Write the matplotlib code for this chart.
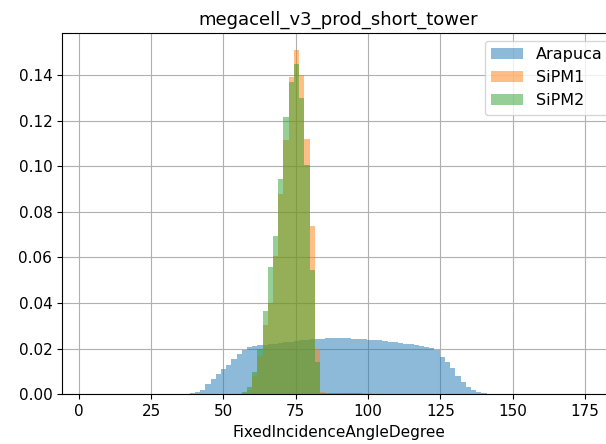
import numpy as np
import matplotlib
matplotlib.use("Agg")
import matplotlib.pyplot as plt

# common binning: 1.8 degree wide bins
bin_width = 1.8

# Arapuca: bins starting at 38.4 deg (fraction of entries per bin)
arapuca_start = 38.4
arapuca = [0.0004, 0.001, 0.002, 0.0044, 0.0066, 0.0087, 0.011, 0.013, 0.0153,
           0.0175, 0.0194, 0.0206, 0.0211, 0.0214, 0.0217, 0.0219, 0.0222, 0.0225,
           0.0228, 0.0231, 0.0234, 0.0237, 0.0239, 0.0241, 0.0243, 0.0244, 0.0245,
           0.0245, 0.0245, 0.0245, 0.0245, 0.0244, 0.0243, 0.0242, 0.0240, 0.0238,
           0.0236, 0.0234, 0.0231, 0.0228, 0.0225, 0.0222, 0.0219, 0.0215, 0.0211,
           0.0207, 0.0203, 0.0196, 0.0165, 0.0140, 0.0114, 0.0082, 0.0053, 0.0031,
           0.0017, 0.0009, 0.0004]

# SiPMs: bins starting at 56.4 deg
sipm_start = 56.4
sipm1 = [0.0005, 0.002, 0.008, 0.017, 0.0306, 0.040, 0.0605, 0.088, 0.1115, 0.139,
         0.151, 0.140, 0.112, 0.074, 0.020, 0.0008, 0.0007, 0.0006, 0.0006, 0.0005,
         0.0005, 0.0005, 0.0004, 0.0004, 0.0004, 0.0003, 0.0003, 0.0003, 0.0002,
         0.0002, 0.0002, 0.0001, 0.0001, 0.0001, 0.0001, 0.0001, 0.0001, 0.0001,
         0.0001, 0.0001, 0.0001]
sipm2 = [0.001, 0.003, 0.0096, 0.0197, 0.0364, 0.056, 0.0696, 0.0943, 0.1215, 0.137,
         0.1448, 0.130, 0.1006, 0.0547, 0.014, 0.0006, 0.0006, 0.0005, 0.0005, 0.0005,
         0.0004, 0.0004, 0.0004, 0.0003, 0.0003, 0.0003, 0.0002, 0.0002, 0.0002,
         0.0002, 0.0001, 0.0001, 0.0001, 0.0001, 0.0001, 0.0001, 0.0001, 0.0001,
         0.0001, 0.0001, 0.0001]

labels = ["Arapuca", "SiPM1", "SiPM2"]


def edges_for(start, values):
    return start + bin_width * np.arange(len(values) + 1)


fig = plt.figure(figsize=(6.06, 4.44), dpi=100)
# axes runs a little past the right edge of the picture, like the cropped original
ax = fig.add_axes([62 / 606, 1 - 394.3 / 444, (615 - 62) / 606, (394.3 - 32.7) / 444])

for start, vals, lab in [(arapuca_start, arapuca, labels[0]),
                         (sipm_start, sipm1, labels[1]),
                         (sipm_start, sipm2, labels[2])]:
    e = edges_for(start, vals)
    centers = 0.5 * (e[:-1] + e[1:])
    ax.hist(centers, bins=e, weights=vals, alpha=0.5, label=lab)

ax.set_xlim(-5.77, 185.4)
ax.set_xticks([0, 25, 50, 75, 100, 125, 150, 175])
ax.grid(True)
ax.set_axisbelow(True)
ax.spines["right"].set_visible(False)
ax.tick_params(labelsize=11)
ax.set_title("megacell_v3_prod_short_tower", fontsize=13)
ax.set_xlabel("FixedIncidenceAngleDegree", fontsize=11)
ax.legend(loc="upper right", fontsize=11.5, borderaxespad=0,
          bbox_to_anchor=(609 / 606, 1 - 41 / 444), bbox_transform=fig.transFigure)

fig.savefig("out.png", dpi=100)
